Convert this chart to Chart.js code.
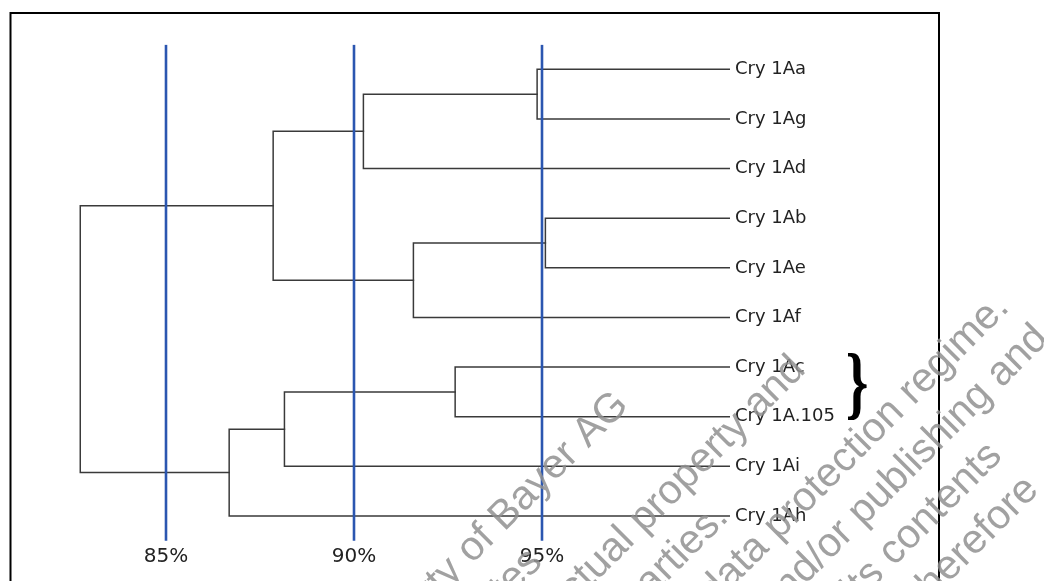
<!DOCTYPE html>
<html>
<head>
<meta charset="utf-8">
<script src="https://cdn.jsdelivr.net/npm/chart.js@4.4.1/dist/chart.umd.min.js"></script>
<style>
html, body { margin: 0; padding: 0; background: #fff; overflow: hidden; }
</style>
</head>
<body>
<canvas id="dendro" width="1044" height="581"></canvas>
<script>
// leaves, top to bottom
const leaves = ['Cry 1Aa', 'Cry 1Ag', 'Cry 1Ad', 'Cry 1Ab', 'Cry 1Ae', 'Cry 1Af',
                'Cry 1Ac', 'Cry 1A.105', 'Cry 1Ai', 'Cry 1Ah'];

// merges: child ids (0-9 leaves, 10+ earlier merges) and similarity in %
const mergeLeft = [0, 3, 6, 10, 11, 12, 13, 15, 16];
const mergeRight = [1, 4, 7, 2, 5, 8, 14, 9, 17];
const mergeSimilarity = [94.87, 95.09, 92.69, 90.25, 91.58, 88.15, 87.85, 86.68, 82.72];

const guideLines = [85, 90, 95];
const xTicks = [85, 90, 95];

const watermark = [
    'This document is the property of Bayer AG',
    'and/or any of its affiliates',
    'It may be subject to rights such as intellectual property and',
    'copy rights of the owner and third parties.',
    'Furthermore, this document may fall under a regulatory data protection regime.',
    'Consequently, any publication, distribution, reproduction and/or publishing and',
    'any commercial exploitation and use of this document or its contents',
    'without the permission of the owner of this document may therefore'
];
const watermarkEnds = [158, -14, 308, 149, 496, 502, 386, 388];

// node positions
const nodeX = leaves.map(() => 100);
const nodeY = leaves.map((_, i) => i);
mergeSimilarity.forEach((s, k) => {
    nodeX.push(s);
    nodeY.push((nodeY[mergeLeft[k]] + nodeY[mergeRight[k]]) / 2);
});

const datasets = [];

guideLines.forEach(v => {
    datasets.push({
        data: [{ x: v, y: -0.47 }, { x: v, y: 9.52 }],
        borderColor: '#2b56b0',
        borderWidth: 2.6
    });
});

mergeSimilarity.forEach((s, k) => {
    const a = mergeLeft[k], b = mergeRight[k];
    datasets.push({
        data: [
            { x: nodeX[a], y: nodeY[a] },
            { x: s, y: nodeY[a] },
            { x: s, y: nodeY[b] },
            { x: nodeX[b], y: nodeY[b] }
        ],
        borderColor: '#3a3a3a',
        borderWidth: 1.5
    });
});

const decorations = {
    id: 'decorations',
    afterDraw(chart) {
        const ctx = chart.ctx;
        ctx.save();

        // frame
        ctx.strokeStyle = '#000';
        ctx.lineWidth = 2;
        ctx.strokeRect(10.5, 13, 928.5, 700);

        // brace
        ctx.fillStyle = '#000';
        ctx.font = 'bold 80px "Liberation Serif"';
        ctx.textAlign = 'center';
        ctx.textBaseline = 'alphabetic';
        ctx.translate(857, 409);
        ctx.scale(0.72, 1);
        ctx.fillText('}', 0, 0);
        ctx.restore();

        // watermark
        ctx.save();
        ctx.rotate(-Math.PI / 4);
        ctx.fillStyle = 'rgba(145,145,145,0.85)';
        ctx.font = '41px "Liberation Sans"';
        ctx.textAlign = 'right';
        ctx.textBaseline = 'alphabetic';
        watermark.forEach((line, i) => {
            ctx.fillText(line, watermarkEnds[i], 733 + i * 50);
        });
        ctx.restore();
    }
};

new Chart(document.getElementById('dendro'), {
    type: 'scatter',
    data: { datasets },
    options: {
        responsive: false,
        animation: false,
        showLine: true,
        elements: {
            point: { radius: 0, hoverRadius: 0 },
            line: { tension: 0, borderCapStyle: 'square' }
        },
        layout: { padding: { left: 53.2, top: 44.5, right: 0, bottom: 0 } },
        plugins: {
            legend: { display: false },
            tooltip: { enabled: false }
        },
        scales: {
            x: {
                type: 'linear',
                min: 82,
                max: 100,
                afterBuildTicks: s => { s.ticks = xTicks.map(v => ({ value: v })); },
                afterFit: s => { s.height = 40.2; },
                grid: { display: false, drawTicks: false },
                border: { display: false },
                ticks: {
                    callback: v => v + '%',
                    font: { family: 'DejaVu Sans', size: 20 },
                    color: '#222',
                    padding: 4,
                    maxRotation: 0
                }
            },
            y: {
                type: 'linear',
                position: 'right',
                reverse: true,
                min: -0.5,
                max: 9.5,
                afterBuildTicks: s => { s.ticks = leaves.map((_, i) => ({ value: i })); },
                afterFit: s => { s.width = 314; },
                grid: { display: false, drawTicks: false },
                border: { display: false },
                ticks: {
                    callback: v => leaves[v],
                    font: { family: 'DejaVu Sans', size: 18 },
                    color: '#222',
                    padding: 5,
                    autoSkip: false
                }
            }
        }
    },
    plugins: [decorations]
});
</script>
</body>
</html>
